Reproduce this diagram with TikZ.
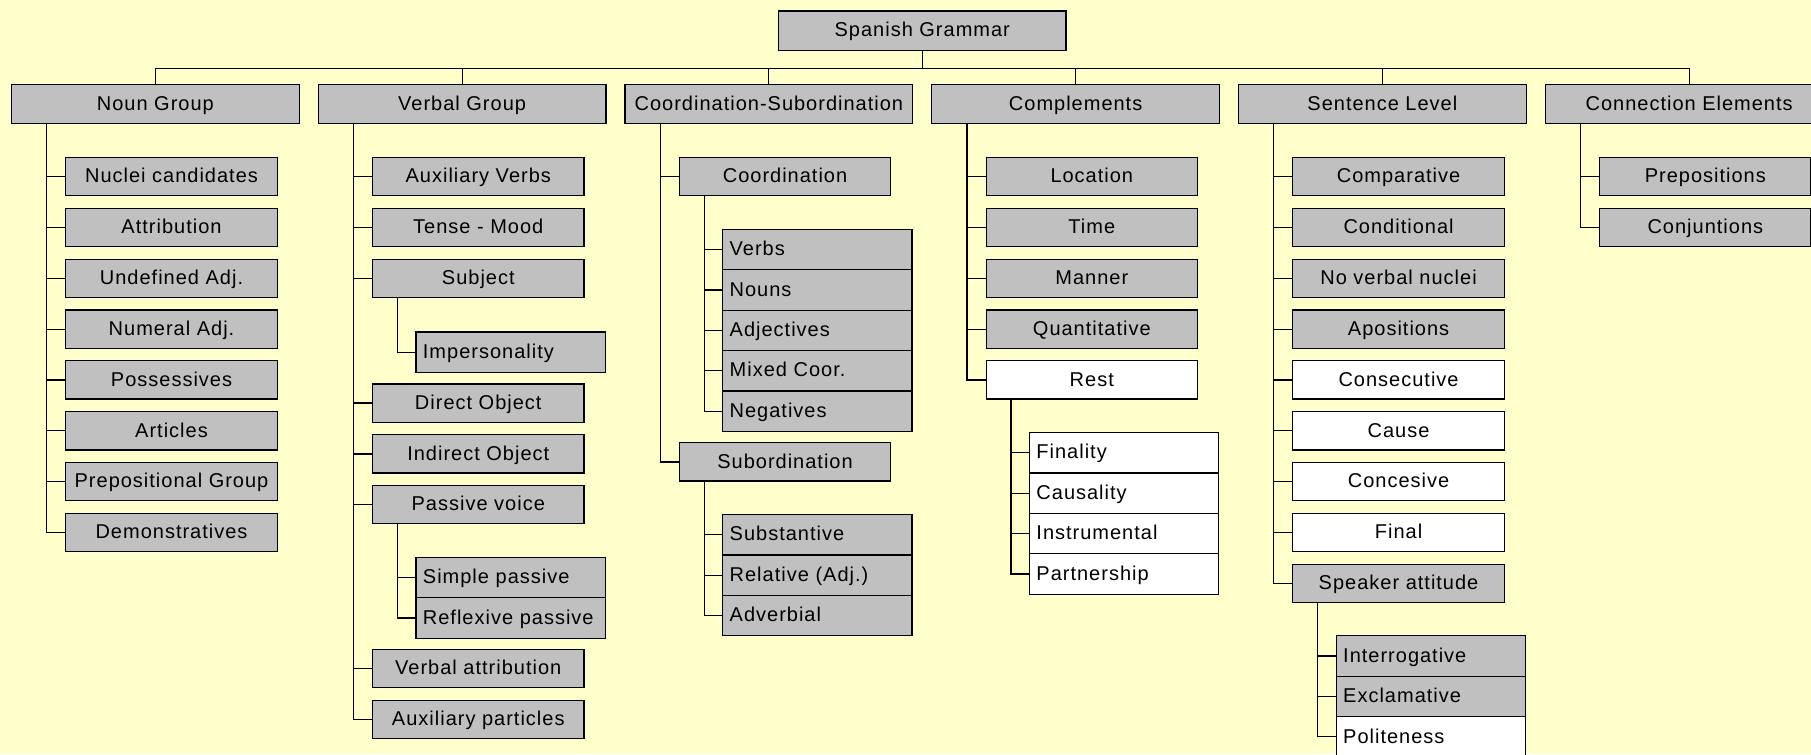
\documentclass[tikz,border=0pt]{standalone}
\usepackage{fontspec}
\setmainfont{Liberation Sans}[LetterSpace=5]
\usetikzlibrary{calc}
\definecolor{paper}{RGB}{255,255,204}
\definecolor{boxgrey}{RGB}{192,192,192}
\tikzset{
  box/.style={draw=black, line width=0.6pt, fill=boxgrey, inner sep=0pt,
              text height=7.3pt, text depth=1.1pt,
              font=\fontsize{10}{12}\selectfont},
  topbox/.style={box, minimum width=143.8pt, minimum height=19.6pt},
  midbox/.style={box, minimum width=105.7pt, minimum height=19.1pt},
  leafbox/.style={box, text width=87.7pt, inner xsep=3.5pt, align=left, minimum height=20.2pt},
  blank/.style={fill=white},
  link/.style={draw=black, line width=0.6pt}
}
% trunk: vertical line from a point below the parent to the last child,
% with a horizontal stub to every child
\newcommand\trunk[3]{%
  \draw[link] (#1) |- (#3.west);
  \foreach \c in {#2} \draw[link] (\c.west -| #1) -- (\c.west);
}
\begin{document}
\begin{tikzpicture}[x=0.5775pt,y=-0.5775pt]
\useasboundingbox (0,0) rectangle (1568,653);
\fill[paper] (0,0) rectangle (1568,653);
\clip (0,0) rectangle (1568,653);

% root and first level
\node[topbox] (root) at (798.5,26.5) {Spanish Grammar};
\node[topbox] (ng) at (134.5,90) {Noun Group};
\node[topbox] (vg) at (400.1,90) {Verbal Group};
\node[topbox] (cs) at (665.7,90) {Coordination-Subordination};
\node[topbox] (co) at (931.3,90) {Complements};
\node[topbox] (sl) at (1196.9,90) {Sentence Level};
\node[topbox] (ce) at (1462.5,90) {Connection Elements};

% Noun Group
\node[midbox] (ng1) at (148.5,153) {Nuclei candidates};
\node[midbox] (ng2) at (148.5,197) {Attribution};
\node[midbox] (ng3) at (148.5,241) {Undefined Adj.};
\node[midbox] (ng4) at (148.5,285) {Numeral Adj.};
\node[midbox] (ng5) at (148.5,329) {Possessives};
\node[midbox] (ng6) at (148.5,373) {Articles};
\node[midbox] (ng7) at (148.5,417) {Prepositional Group};
\node[midbox] (ng8) at (148.5,461) {Demonstratives};

% Verbal Group
\node[midbox] (vg1) at (414.1,153) {Auxiliary Verbs};
\node[midbox] (vg2) at (414.1,197) {Tense - Mood};
\node[midbox] (vg3) at (414.1,241) {Subject};
\node[leafbox] (vg3a) at (442.1,305) {Impersonality};
\node[midbox] (vg4) at (414.1,349) {Direct Object};
\node[midbox] (vg5) at (414.1,393) {Indirect Object};
\node[midbox] (vg6) at (414.1,437) {Passive voice};
\node[leafbox] (vg6a) at (442.1,500) {Simple passive};
\node[leafbox] (vg6b) at (442.1,535) {Reflexive passive};
\node[midbox] (vg7) at (414.1,579) {Verbal attribution};
\node[midbox] (vg8) at (414.1,623) {Auxiliary particles};

% Coordination-Subordination
\node[midbox] (cs1) at (679.7,153) {Coordination};
\node[leafbox] (cs1a) at (707.7,216) {Verbs};
\node[leafbox] (cs1b) at (707.7,251) {Nouns};
\node[leafbox] (cs1c) at (707.7,286) {Adjectives};
\node[leafbox] (cs1d) at (707.7,321) {Mixed Coor.};
\node[leafbox] (cs1e) at (707.7,356) {Negatives};
\node[midbox] (cs2) at (679.7,400) {Subordination};
\node[leafbox] (cs2a) at (707.7,463) {Substantive};
\node[leafbox] (cs2b) at (707.7,498) {Relative (Adj.)};
\node[leafbox] (cs2c) at (707.7,533) {Adverbial};

% Complements
\node[midbox] (co1) at (945.3,153) {Location};
\node[midbox] (co2) at (945.3,197) {Time};
\node[midbox] (co3) at (945.3,241) {Manner};
\node[midbox] (co4) at (945.3,285) {Quantitative};
\node[midbox,blank] (co5) at (945.3,329) {Rest};
\node[leafbox,blank] (co5a) at (973.3,392) {Finality};
\node[leafbox,blank] (co5b) at (973.3,427) {Causality};
\node[leafbox,blank] (co5c) at (973.3,462) {Instrumental};
\node[leafbox,blank] (co5d) at (973.3,497) {Partnership};

% Sentence Level
\node[midbox] (sl1) at (1210.9,153) {Comparative};
\node[midbox] (sl2) at (1210.9,197) {Conditional};
\node[midbox] (sl3) at (1210.9,241) {No verbal nuclei};
\node[midbox] (sl4) at (1210.9,285) {Apositions};
\node[midbox,blank] (sl5) at (1210.9,329) {Consecutive};
\node[midbox,blank] (sl6) at (1210.9,373) {Cause};
\node[midbox,blank] (sl7) at (1210.9,417) {Concesive};
\node[midbox,blank] (sl8) at (1210.9,461) {Final};
\node[midbox] (sl9) at (1210.9,505) {Speaker attitude};
\node[leafbox] (sl9a) at (1238.9,568) {Interrogative};
\node[leafbox] (sl9b) at (1238.9,603) {Exclamative};
\node[leafbox,blank] (sl9c) at (1238.9,638) {Politeness};

% Connection Elements
\node[midbox] (ce1) at (1476.5,153) {Prepositions};
\node[midbox] (ce2) at (1476.5,197) {Conjuntions};

% connectors: root to first level
\coordinate (bus) at ($(root.south)+(0,15)$);
\draw[link] (root.south) -- (bus);
\draw[link] (ng.north) |- (bus) -| (ce.north);
\foreach \t in {vg,cs,co,sl}
  \draw[link] (\t.north) -- (\t.north |- bus);

% trunk tops below each parent
\foreach \p in {ng,vg,cs,co,sl,ce}
  \coordinate (\p-t) at ($(\p.south west)+(31,0)$);
\foreach \p in {vg3,vg6,cs1,cs2,co5,sl9}
  \coordinate (\p-t) at ($(\p.south west)+(22,0)$);

% first level trunks
\trunk{ng-t}{ng1,ng2,ng3,ng4,ng5,ng6,ng7}{ng8}
\trunk{vg-t}{vg1,vg2,vg3,vg4,vg5,vg6,vg7}{vg8}
\trunk{cs-t}{cs1}{cs2}
\trunk{co-t}{co1,co2,co3,co4}{co5}
\trunk{sl-t}{sl1,sl2,sl3,sl4,sl5,sl6,sl7,sl8}{sl9}
\trunk{ce-t}{ce1}{ce2}

% second level trunks
\draw[link] (vg3-t) |- (vg3a.west);
\trunk{vg6-t}{vg6a}{vg6b}
\trunk{cs1-t}{cs1a,cs1b,cs1c,cs1d}{cs1e}
\trunk{cs2-t}{cs2a,cs2b}{cs2c}
\trunk{co5-t}{co5a,co5b,co5c}{co5d}
\trunk{sl9-t}{sl9a,sl9b}{sl9c}
\end{tikzpicture}
\end{document}
